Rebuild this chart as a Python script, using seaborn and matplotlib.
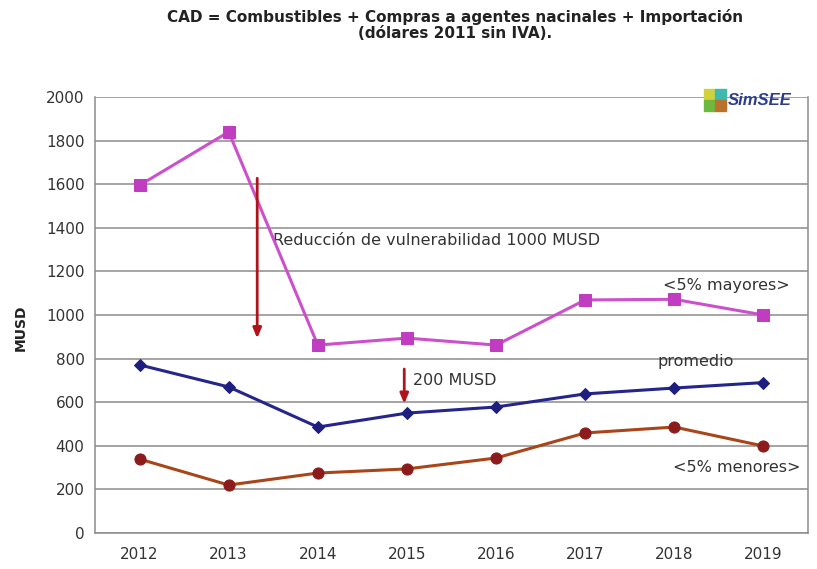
import matplotlib
matplotlib.use("Agg")
import matplotlib.pyplot as plt
from matplotlib.patches import Rectangle, FancyArrowPatch
import seaborn as sns
import pandas as pd

# Annual cost series (MUSD, 2011 dollars, without VAT)
years = [2012, 2013, 2014, 2015, 2016, 2017, 2018, 2019]
mayores = [1595, 1840, 862, 894, 862, 1069, 1072, 1000]
promedio = [771, 670, 486, 550, 578, 638, 665, 690]
menores = [339, 220, 275, 294, 344, 459, 486, 399]
y_ticks = [0, 200, 400, 600, 800, 1000, 1200, 1400, 1600, 1800, 2000]

sns.set_theme(style="white")
plt.rcParams["font.family"] = ["DejaVu Sans"]

fig = plt.figure(figsize=(8.17, 5.69), dpi=100)
ax = fig.add_axes([95 / 817, 1 - 533 / 569, (808 - 95) / 817, (533 - 97) / 569])

df = pd.DataFrame({"year": years, "mayores": mayores,
                   "promedio": promedio, "menores": menores})

sns.lineplot(data=df, x="year", y="mayores", ax=ax, color="#CC4FCC",
             linewidth=2.2, marker="s", markersize=8.5,
             markerfacecolor="#C03CC0", markeredgecolor="#C03CC0", zorder=4)
sns.lineplot(data=df, x="year", y="promedio", ax=ax, color="#25258C",
             linewidth=2.2, marker="D", markersize=6,
             markerfacecolor="#1E1E80", markeredgecolor="#1E1E80", zorder=4)
sns.lineplot(data=df, x="year", y="menores", ax=ax, color="#A8461A",
             linewidth=2.2, marker="o", markersize=8,
             markerfacecolor="#8C1C1C", markeredgecolor="#8C1C1C", zorder=4)

ax.set_xlim(2011.5, 2019.5)
ax.set_ylim(0, 2000)
ax.set_yticks(y_ticks)
ax.set_xticks(years)
ax.set_xticklabels([str(y) for y in years])
ax.set_xticks([y + 0.5 for y in [2011] + years], minor=True)
ax.tick_params(axis="x", which="major", length=0, pad=10, labelsize=11,
               colors="#333333")
ax.tick_params(axis="x", which="minor", length=5, width=1, color="#888888",
               direction="out")
ax.tick_params(axis="y", which="major", length=4.5, width=1, color="#888888",
               direction="out", pad=3, labelsize=11, labelcolor="#333333")
ax.set_xlabel("")
ax.set_ylabel("MUSD", fontsize=10, fontweight="bold", color="#222222")
ax.yaxis.set_label_coords(-0.094, 0.47)

ax.yaxis.grid(True, color="#8C8C8C", linewidth=1.1)
ax.xaxis.grid(False)
for side in ["left", "bottom", "right"]:
    ax.spines[side].set_visible(True)
    ax.spines[side].set_color("#8C8C8C")
    ax.spines[side].set_linewidth(1.1)
ax.spines["top"].set_visible(False)

# Reduction arrows
arrow_color = "#B0141A"
ax.add_patch(FancyArrowPatch((2013.32, 1640), (2013.32, 880),
                             arrowstyle="-|>,head_length=6,head_width=2.5",
                             color=arrow_color, linewidth=2, zorder=5))
ax.add_patch(FancyArrowPatch((2014.97, 765), (2014.97, 580),
                             arrowstyle="-|>,head_length=6,head_width=2.5",
                             color=arrow_color, linewidth=2, zorder=5))

# Annotations
txt = dict(fontsize=11.5, color="#333333", va="center", ha="left")
ax.text(2013.5, 1340, "Reducción de vulnerabilidad 1000 MUSD", **txt)
ax.text(2015.07, 700, "200 MUSD", **txt)
ax.text(2017.81, 785, "promedio", **txt)
ax.text(2017.87, 1135, "<5% mayores>", **txt)
ax.text(2017.99, 300, "<5% menores>", **txt)

# Title
fig.text(0.557, 1 - 17 / 569, "CAD = Combustibles + Compras a agentes nacinales + Importación",
         ha="center", va="center", fontsize=11, fontweight="bold",
         color="#222222")
fig.text(0.557, 1 - 34 / 569, "(dólares 2011 sin IVA).",
         ha="center", va="center", fontsize=11, fontweight="bold",
         color="#222222")

# SimSEE logo
def fx(px):
    return px / 817

def fy(py):
    return 1 - py / 569

sq = 10.5
for (x0, y0, c) in [(704, 89, "#CFD23C"), (715, 89, "#3DB9B0"),
                    (704, 100, "#6DB83E"), (715, 100, "#B8722E")]:
    fig.patches.append(Rectangle((fx(x0), fy(y0 + sq)), sq / 817, sq / 569,
                                 transform=fig.transFigure, color=c,
                                 zorder=6))
fig.text(fx(728), fy(100.5), "SimSEE", fontsize=12, fontweight="bold",
         fontstyle="italic", color="#2B3C8C", ha="left", va="center",
         family="Liberation Sans", zorder=6)

fig.savefig("out.png", dpi=100, facecolor="white")
